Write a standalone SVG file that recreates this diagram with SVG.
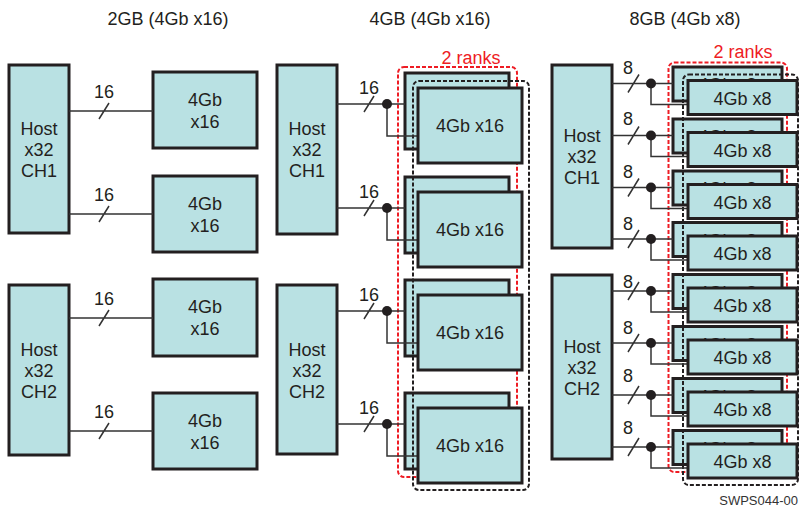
<svg xmlns="http://www.w3.org/2000/svg" width="799" height="510" viewBox="0 0 799 510">
<style>
text{font-family:"Liberation Sans",Arial,sans-serif;fill:#231f20}
.t{font-size:18px;text-anchor:middle}
.lbl{font-size:18px;text-anchor:middle}
.red{fill:#ee1c24}
.box{fill:#b9e1e3;stroke:#231f20;stroke-width:3}
.w{stroke:#333;stroke-width:1.5;fill:none}
.dr{fill:none;stroke:#ee1c24;stroke-width:2;stroke-dasharray:4 2}
.dk{fill:none;stroke:#231f20;stroke-width:2;stroke-dasharray:4 2}
.fn{font-size:13px;text-anchor:end;fill:#333}
</style>
<rect width="799" height="510" fill="#fff"/>
<g id="titles">
<text class="t" x="168" y="25">2GB (4Gb x16)</text>
<text class="t" x="430" y="25">4GB (4Gb x16)</text>
<text class="t" x="685" y="25">8GB (4Gb x8)</text>
<text class="t red" x="471" y="64">2 ranks</text>
<text class="t red" x="743" y="58">2 ranks</text>
</g>
<g id="rank-outlines-red">
<rect class="dr" x="398" y="67" width="119" height="410" rx="6"/>
<rect class="dr" x="668.5" y="62.5" width="118.5" height="409.5" rx="6"/>
</g>
<g id="hosts">
<g id="host-2gb-ch1"><rect class="box" x="9" y="65" width="60" height="168"/><text class="t" x="39" y="135">Host</text><text class="t" x="39" y="156">x32</text><text class="t" x="39" y="177">CH1</text></g>
<g id="host-2gb-ch2"><rect class="box" x="9" y="285" width="60" height="170"/><text class="t" x="39" y="356">Host</text><text class="t" x="39" y="377">x32</text><text class="t" x="39" y="398">CH2</text></g>
<g id="host-4gb-ch1"><rect class="box" x="277" y="65" width="60" height="169"/><text class="t" x="307" y="135">Host</text><text class="t" x="307" y="156">x32</text><text class="t" x="307" y="177">CH1</text></g>
<g id="host-4gb-ch2"><rect class="box" x="277" y="285" width="60" height="169"/><text class="t" x="307" y="356">Host</text><text class="t" x="307" y="377">x32</text><text class="t" x="307" y="398">CH2</text></g>
<g id="host-8gb-ch1"><rect class="box" x="552" y="65" width="60" height="183"/><text class="t" x="582" y="142">Host</text><text class="t" x="582" y="163">x32</text><text class="t" x="582" y="184">CH1</text></g>
<g id="host-8gb-ch2"><rect class="box" x="552" y="275" width="60" height="184"/><text class="t" x="582" y="353">Host</text><text class="t" x="582" y="374">x32</text><text class="t" x="582" y="395">CH2</text></g>
</g>
<g id="dram-2gb">
<g id="d2-1"><rect class="box" x="153" y="72" width="104" height="76"/><text class="t" x="205" y="106">4Gb</text><text class="t" x="205" y="128">x16</text></g>
<g id="d2-2"><rect class="box" x="153" y="176" width="104" height="76"/><text class="t" x="205" y="210">4Gb</text><text class="t" x="205" y="232">x16</text></g>
<g id="d2-3"><rect class="box" x="153" y="279" width="104" height="77"/><text class="t" x="205" y="313">4Gb</text><text class="t" x="205" y="335">x16</text></g>
<g id="d2-4"><rect class="box" x="153" y="393" width="104" height="76"/><text class="t" x="205" y="427">4Gb</text><text class="t" x="205" y="449">x16</text></g>
</g>
<g id="dram-4gb-rank0">
<rect id="d4-b1" class="box" x="405" y="73" width="104" height="76"/>
<rect id="d4-b2" class="box" x="405" y="177" width="104" height="76"/>
<rect id="d4-b3" class="box" x="405" y="280" width="104" height="76"/>
<rect id="d4-b4" class="box" x="405" y="393" width="104" height="76"/>
</g>
<g id="dram-8gb-rank0">
<g id="d8-b1"><rect class="box" x="673" y="67" width="109" height="34"/><text class="t" x="727.5" y="91">4Gb x8</text></g>
<g id="d8-b2"><rect class="box" x="673" y="119" width="109" height="34"/><text class="t" x="727.5" y="143">4Gb x8</text></g>
<g id="d8-b3"><rect class="box" x="673" y="171" width="109" height="34"/><text class="t" x="727.5" y="195">4Gb x8</text></g>
<g id="d8-b4"><rect class="box" x="673" y="222.5" width="109" height="34"/><text class="t" x="727.5" y="246.5">4Gb x8</text></g>
<g id="d8-b5"><rect class="box" x="673" y="274.5" width="109" height="34"/><text class="t" x="727.5" y="298.5">4Gb x8</text></g>
<g id="d8-b6"><rect class="box" x="673" y="326.5" width="109" height="34"/><text class="t" x="727.5" y="350.5">4Gb x8</text></g>
<g id="d8-b7"><rect class="box" x="673" y="378.5" width="109" height="34"/><text class="t" x="727.5" y="402.5">4Gb x8</text></g>
<g id="d8-b8"><rect class="box" x="673" y="430.5" width="109" height="34"/><text class="t" x="727.5" y="454.5">4Gb x8</text></g>
</g>
<g id="rank-outlines-black">
<rect class="dk" x="413" y="81" width="116" height="409" rx="6"/>
<rect class="dk" x="683" y="74.5" width="115" height="410.5" rx="6"/>
</g>
<g id="connectors">
<path class="w" d="M69 111H153M99 119L109 103M69 214H153M99 222L109 206M69 318H153M99 326L109 310M69 431H153M99 439L109 423"/>
<path class="w" d="M337 104H405M387 104V136H418M364 112L374 96M337 208H405M387 208V240H418M364 216L374 200M337 311H405M387 311V343H418M364 319L374 303M337 424H405M387 424V456H418M364 432L374 416"/>
<path class="w" d="M612 83.5H673M651 83.5V104.5H688M628 92.5L639 74.5M612 135.5H673M651 135.5V156.5H688M628 144.5L639 126.5M612 187.5H673M651 187.5V208.5H688M628 196.5L639 178.5M612 239H673M651 239V260H688M628 248L639 230M612 291H673M651 291V312H688M628 300L639 282M612 343H673M651 343V364H688M628 352L639 334M612 395H673M651 395V416H688M628 404L639 386M612 447H673M651 447V468H688M628 456L639 438"/>
<g fill="#231f20">
<circle cx="387" cy="104" r="5"/><circle cx="387" cy="208" r="5"/><circle cx="387" cy="311" r="5"/><circle cx="387" cy="424" r="5"/>
<circle cx="651" cy="83.5" r="5"/><circle cx="651" cy="135.5" r="5"/><circle cx="651" cy="187.5" r="5"/><circle cx="651" cy="239" r="5"/><circle cx="651" cy="291" r="5"/><circle cx="651" cy="343" r="5"/><circle cx="651" cy="395" r="5"/><circle cx="651" cy="447" r="5"/>
</g>
<g class="labels">
<text class="lbl" x="104" y="98">16</text><text class="lbl" x="104" y="201">16</text><text class="lbl" x="104" y="305">16</text><text class="lbl" x="104" y="418">16</text>
<text class="lbl" x="369" y="93.5">16</text><text class="lbl" x="369" y="197.5">16</text><text class="lbl" x="369" y="300.5">16</text><text class="lbl" x="369" y="413.5">16</text>
<text class="lbl" x="628" y="73.5">8</text><text class="lbl" x="628" y="124.5">8</text><text class="lbl" x="628" y="177.5">8</text><text class="lbl" x="628" y="229.5">8</text><text class="lbl" x="628" y="287.5">8</text><text class="lbl" x="628" y="333.5">8</text><text class="lbl" x="628" y="381.5">8</text><text class="lbl" x="628" y="433.5">8</text>
</g>
</g>
<g id="dram-4gb-rank1">
<g id="d4-f1"><rect class="box" x="418" y="88" width="104" height="75"/><text class="t" x="470" y="132">4Gb x16</text></g>
<g id="d4-f2"><rect class="box" x="418" y="192" width="104" height="75"/><text class="t" x="470" y="236">4Gb x16</text></g>
<g id="d4-f3"><rect class="box" x="418" y="295" width="104" height="75"/><text class="t" x="470" y="339">4Gb x16</text></g>
<g id="d4-f4"><rect class="box" x="418" y="408" width="104" height="75"/><text class="t" x="470" y="452">4Gb x16</text></g>
</g>
<g id="dram-8gb-rank1">
<g id="d8-f1"><rect class="box" x="688" y="80.5" width="109" height="34"/><text class="t" x="742.5" y="104.5">4Gb x8</text></g>
<g id="d8-f2"><rect class="box" x="688" y="132.5" width="109" height="34"/><text class="t" x="742.5" y="156.5">4Gb x8</text></g>
<g id="d8-f3"><rect class="box" x="688" y="184.5" width="109" height="34"/><text class="t" x="742.5" y="208.5">4Gb x8</text></g>
<g id="d8-f4"><rect class="box" x="688" y="236" width="109" height="34"/><text class="t" x="742.5" y="260">4Gb x8</text></g>
<g id="d8-f5"><rect class="box" x="688" y="288" width="109" height="34"/><text class="t" x="742.5" y="312">4Gb x8</text></g>
<g id="d8-f6"><rect class="box" x="688" y="340" width="109" height="34"/><text class="t" x="742.5" y="364">4Gb x8</text></g>
<g id="d8-f7"><rect class="box" x="688" y="392" width="109" height="34"/><text class="t" x="742.5" y="416">4Gb x8</text></g>
<g id="d8-f8"><rect class="box" x="688" y="444" width="109" height="34"/><text class="t" x="742.5" y="468">4Gb x8</text></g>
</g>
<text class="fn" x="798" y="505">SWPS044-00</text>
</svg>
